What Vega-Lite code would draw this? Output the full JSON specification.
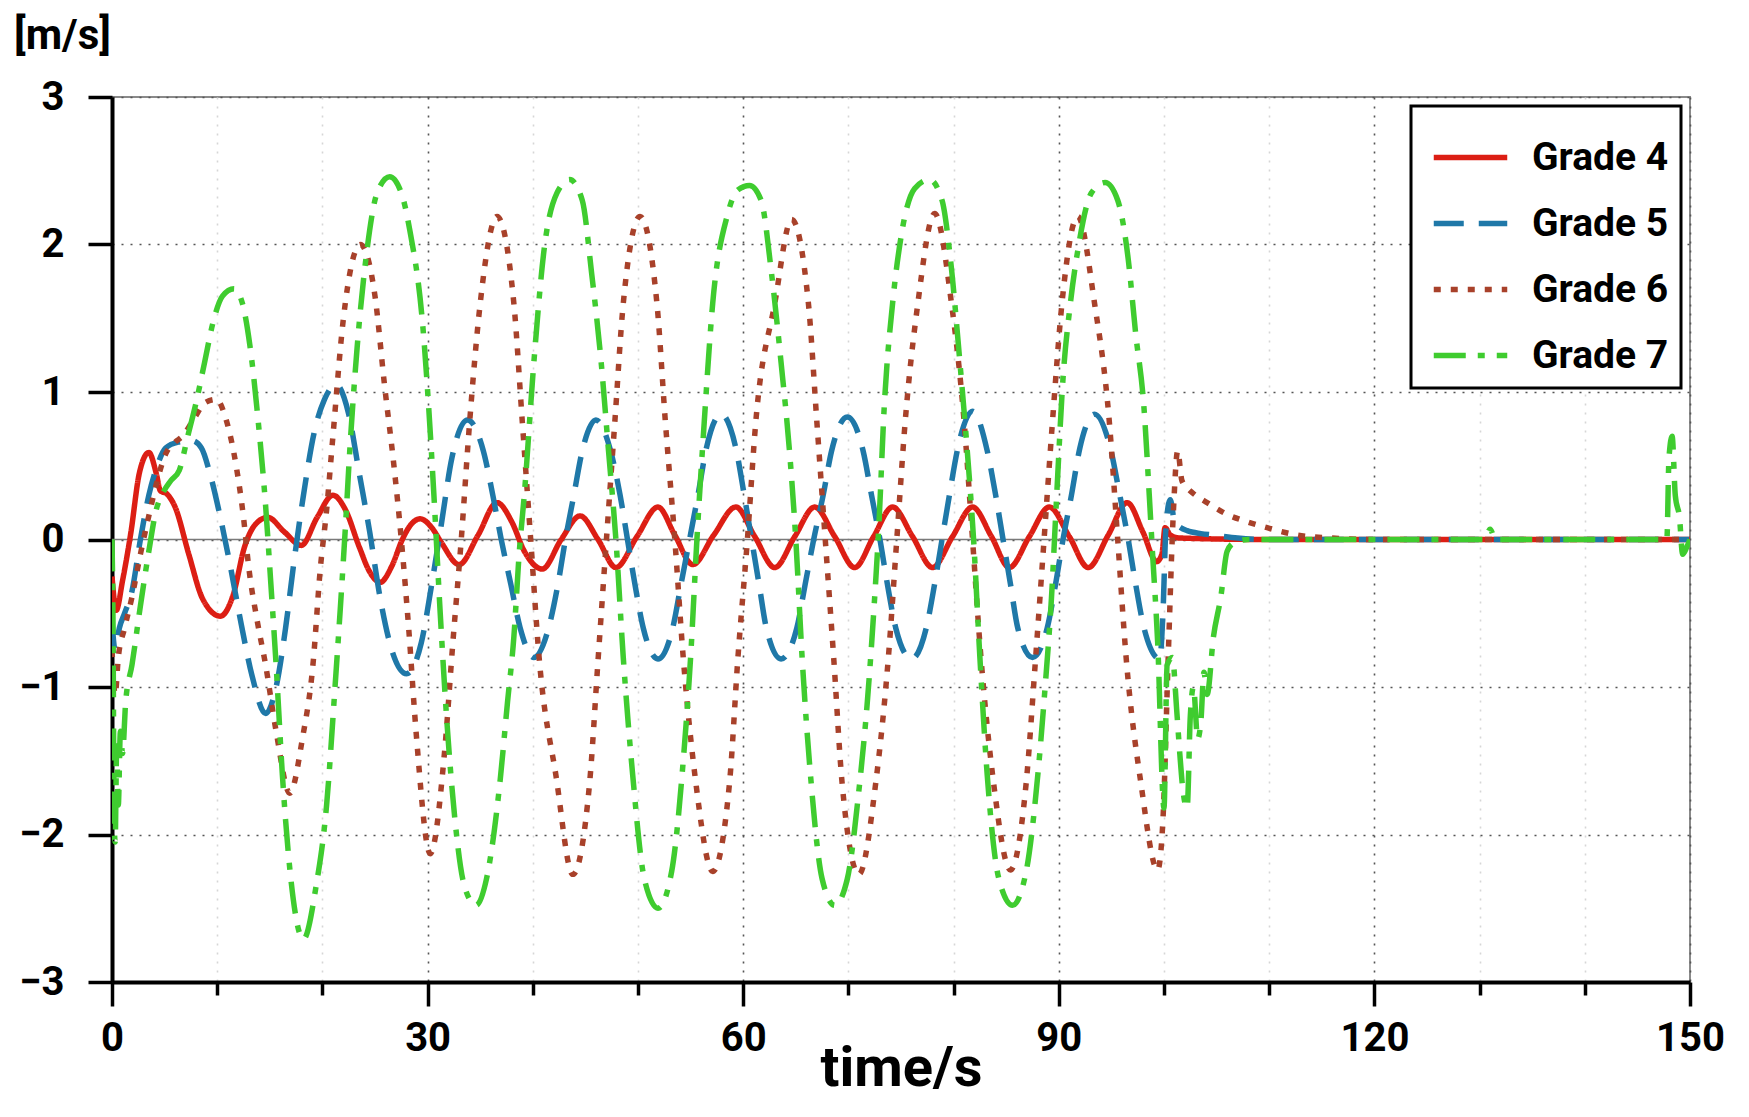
{
"$schema": "https://vega.github.io/schema/vega-lite/v6.json",
"width": 1578, "height": 885,
"autosize": {"type": "none"},
"padding": {"left": 112, "top": 97, "right": 59, "bottom": 135},
"background": "white",
"config": {
 "view": {"stroke": "#8a8a8a", "strokeWidth": 2},
 "font": "Roboto",
 "legend": {"strokeColor": "black", "strokeWidth": 3, "fillColor": "white"}
},
"data": {"values": [
{"grade":"Grade 4","t":0,"v":-0.25},{"grade":"Grade 4","t":0.4,"v":-0.48},{"grade":"Grade 4","t":1.0,"v":-0.28},{"grade":"Grade 4","t":1.8,"v":0.05},{"grade":"Grade 4","t":2.6,"v":0.45},{"grade":"Grade 4","t":3.5,"v":0.59},{"grade":"Grade 4","t":4.2,"v":0.45},{"grade":"Grade 4","t":4.6,"v":0.33},{"grade":"Grade 4","t":5.2,"v":0.31},{"grade":"Grade 4","t":6.0,"v":0.22},{"grade":"Grade 4","t":7.3,"v":-0.1},{"grade":"Grade 4","t":8.6,"v":-0.4},{"grade":"Grade 4","t":10.3,"v":-0.52},{"grade":"Grade 4","t":11.5,"v":-0.38},{"grade":"Grade 4","t":12.6,"v":-0.05},{"grade":"Grade 4","t":13.6,"v":0.1},{"grade":"Grade 4","t":14.8,"v":0.15},{"grade":"Grade 4","t":16.4,"v":0.05},{"grade":"Grade 4","t":18,"v":-0.04},{"grade":"Grade 4","t":19.5,"v":0.15},{"grade":"Grade 4","t":21,"v":0.3},{"grade":"Grade 4","t":22.2,"v":0.2},{"grade":"Grade 4","t":23.5,"v":-0.05},{"grade":"Grade 4","t":24.5,"v":-0.22},{"grade":"Grade 4","t":25.5,"v":-0.29},{"grade":"Grade 4","t":26.6,"v":-0.18},{"grade":"Grade 4","t":27.6,"v":0.0},{"grade":"Grade 4","t":28.4,"v":0.1},{"grade":"Grade 4","t":29.3,"v":0.14},{"grade":"Grade 4","t":30.4,"v":0.08},{"grade":"Grade 4","t":31.3,"v":-0.02},{"grade":"Grade 4","t":33,"v":-0.17},{"grade":"Grade 4","t":34.8,"v":0.03},{"grade":"Grade 4","t":36.6,"v":0.25},{"grade":"Grade 4","t":38.0,"v":0.12},{"grade":"Grade 4","t":39.2,"v":-0.08},{"grade":"Grade 4","t":40.9,"v":-0.2},{"grade":"Grade 4","t":42.7,"v":0.0},{"grade":"Grade 4","t":44.5,"v":0.16},{"grade":"Grade 4","t":46.2,"v":0.0},{"grade":"Grade 4","t":47.9,"v":-0.19},{"grade":"Grade 4","t":49.9,"v":0.02},{"grade":"Grade 4","t":51.9,"v":0.22},{"grade":"Grade 4","t":53.5,"v":0.03},{"grade":"Grade 4","t":55.2,"v":-0.17},{"grade":"Grade 4","t":57.2,"v":0.03},{"grade":"Grade 4","t":59.3,"v":0.22},{"grade":"Grade 4","t":61.1,"v":0.02},{"grade":"Grade 4","t":63,"v":-0.19},{"grade":"Grade 4","t":64.9,"v":0.02},{"grade":"Grade 4","t":66.8,"v":0.22},{"grade":"Grade 4","t":68.7,"v":0.02},{"grade":"Grade 4","t":70.6,"v":-0.19},{"grade":"Grade 4","t":72.4,"v":0.02},{"grade":"Grade 4","t":74.2,"v":0.22},{"grade":"Grade 4","t":76.1,"v":0.02},{"grade":"Grade 4","t":78,"v":-0.19},{"grade":"Grade 4","t":79.9,"v":0.02},{"grade":"Grade 4","t":81.8,"v":0.22},{"grade":"Grade 4","t":83.6,"v":0.02},{"grade":"Grade 4","t":85.3,"v":-0.19},{"grade":"Grade 4","t":87.2,"v":0.02},{"grade":"Grade 4","t":89.1,"v":0.22},{"grade":"Grade 4","t":91,"v":0.02},{"grade":"Grade 4","t":92.8,"v":-0.19},{"grade":"Grade 4","t":94.7,"v":0.03},{"grade":"Grade 4","t":96.5,"v":0.25},{"grade":"Grade 4","t":98,"v":0.05},{"grade":"Grade 4","t":99.3,"v":-0.15},{"grade":"Grade 4","t":99.8,"v":-0.1},{"grade":"Grade 4","t":100.1,"v":0.08},{"grade":"Grade 4","t":100.6,"v":0.03},{"grade":"Grade 4","t":101.5,"v":0.01},{"grade":"Grade 4","t":110,"v":0.0},{"grade":"Grade 4","t":150,"v":0.0},
{"grade":"Grade 5","t":0,"v":-0.55},{"grade":"Grade 5","t":0.3,"v":-0.75},{"grade":"Grade 5","t":0.7,"v":-0.6},{"grade":"Grade 5","t":1.2,"v":-0.5},{"grade":"Grade 5","t":1.9,"v":-0.35},{"grade":"Grade 5","t":2.7,"v":0.0},{"grade":"Grade 5","t":3.5,"v":0.3},{"grade":"Grade 5","t":4.3,"v":0.5},{"grade":"Grade 5","t":5.1,"v":0.62},{"grade":"Grade 5","t":6.3,"v":0.66},{"grade":"Grade 5","t":7.6,"v":0.67},{"grade":"Grade 5","t":8.5,"v":0.62},{"grade":"Grade 5","t":9.3,"v":0.45},{"grade":"Grade 5","t":10.3,"v":0.15},{"grade":"Grade 5","t":11.3,"v":-0.2},{"grade":"Grade 5","t":12.3,"v":-0.58},{"grade":"Grade 5","t":13.3,"v":-0.92},{"grade":"Grade 5","t":14.6,"v":-1.18},{"grade":"Grade 5","t":15.6,"v":-1.0},{"grade":"Grade 5","t":16.5,"v":-0.6},{"grade":"Grade 5","t":17.3,"v":-0.15},{"grade":"Grade 5","t":18.2,"v":0.3},{"grade":"Grade 5","t":19.2,"v":0.72},{"grade":"Grade 5","t":20.2,"v":0.95},{"grade":"Grade 5","t":21.3,"v":1.05},{"grade":"Grade 5","t":22.5,"v":0.85},{"grade":"Grade 5","t":23.5,"v":0.45},{"grade":"Grade 5","t":24.5,"v":0.05},{"grade":"Grade 5","t":25.5,"v":-0.4},{"grade":"Grade 5","t":26.6,"v":-0.75},{"grade":"Grade 5","t":28,"v":-0.91},{"grade":"Grade 5","t":29.4,"v":-0.7},{"grade":"Grade 5","t":30.4,"v":-0.3},{"grade":"Grade 5","t":31.3,"v":0.1},{"grade":"Grade 5","t":32.3,"v":0.55},{"grade":"Grade 5","t":33.8,"v":0.81},{"grade":"Grade 5","t":35.3,"v":0.6},{"grade":"Grade 5","t":36.2,"v":0.3},{"grade":"Grade 5","t":37.0,"v":0.0},{"grade":"Grade 5","t":37.9,"v":-0.3},{"grade":"Grade 5","t":38.8,"v":-0.6},{"grade":"Grade 5","t":40.1,"v":-0.8},{"grade":"Grade 5","t":41.5,"v":-0.6},{"grade":"Grade 5","t":42.4,"v":-0.3},{"grade":"Grade 5","t":43.1,"v":0.0},{"grade":"Grade 5","t":43.9,"v":0.3},{"grade":"Grade 5","t":44.7,"v":0.6},{"grade":"Grade 5","t":46,"v":0.81},{"grade":"Grade 5","t":47.4,"v":0.6},{"grade":"Grade 5","t":48.3,"v":0.3},{"grade":"Grade 5","t":49.0,"v":0.0},{"grade":"Grade 5","t":49.7,"v":-0.3},{"grade":"Grade 5","t":50.5,"v":-0.6},{"grade":"Grade 5","t":51.9,"v":-0.81},{"grade":"Grade 5","t":53.3,"v":-0.6},{"grade":"Grade 5","t":54.1,"v":-0.3},{"grade":"Grade 5","t":54.9,"v":0.0},{"grade":"Grade 5","t":55.7,"v":0.3},{"grade":"Grade 5","t":56.5,"v":0.62},{"grade":"Grade 5","t":57.9,"v":0.85},{"grade":"Grade 5","t":59.3,"v":0.62},{"grade":"Grade 5","t":60.1,"v":0.3},{"grade":"Grade 5","t":60.8,"v":0.0},{"grade":"Grade 5","t":61.5,"v":-0.3},{"grade":"Grade 5","t":62.2,"v":-0.6},{"grade":"Grade 5","t":63.6,"v":-0.81},{"grade":"Grade 5","t":65.1,"v":-0.6},{"grade":"Grade 5","t":65.9,"v":-0.3},{"grade":"Grade 5","t":66.7,"v":0.0},{"grade":"Grade 5","t":67.6,"v":0.3},{"grade":"Grade 5","t":68.4,"v":0.6},{"grade":"Grade 5","t":69.9,"v":0.83},{"grade":"Grade 5","t":71.4,"v":0.6},{"grade":"Grade 5","t":72.2,"v":0.3},{"grade":"Grade 5","t":73.0,"v":0.0},{"grade":"Grade 5","t":73.7,"v":-0.3},{"grade":"Grade 5","t":74.5,"v":-0.6},{"grade":"Grade 5","t":76,"v":-0.81},{"grade":"Grade 5","t":77.4,"v":-0.6},{"grade":"Grade 5","t":78.2,"v":-0.3},{"grade":"Grade 5","t":78.9,"v":0.0},{"grade":"Grade 5","t":79.6,"v":0.3},{"grade":"Grade 5","t":80.4,"v":0.62},{"grade":"Grade 5","t":81.8,"v":0.87},{"grade":"Grade 5","t":83.2,"v":0.6},{"grade":"Grade 5","t":84.0,"v":0.3},{"grade":"Grade 5","t":84.7,"v":0.0},{"grade":"Grade 5","t":85.4,"v":-0.3},{"grade":"Grade 5","t":86.1,"v":-0.6},{"grade":"Grade 5","t":87.5,"v":-0.8},{"grade":"Grade 5","t":88.9,"v":-0.6},{"grade":"Grade 5","t":89.7,"v":-0.3},{"grade":"Grade 5","t":90.4,"v":0.0},{"grade":"Grade 5","t":91.2,"v":0.3},{"grade":"Grade 5","t":92.0,"v":0.62},{"grade":"Grade 5","t":93.4,"v":0.85},{"grade":"Grade 5","t":94.9,"v":0.62},{"grade":"Grade 5","t":95.8,"v":0.3},{"grade":"Grade 5","t":96.6,"v":0.0},{"grade":"Grade 5","t":97.3,"v":-0.3},{"grade":"Grade 5","t":98.1,"v":-0.6},{"grade":"Grade 5","t":99.6,"v":-0.81},{"grade":"Grade 5","t":99.9,"v":-0.5},{"grade":"Grade 5","t":100.2,"v":0.1},{"grade":"Grade 5","t":100.6,"v":0.27},{"grade":"Grade 5","t":101.0,"v":0.12},{"grade":"Grade 5","t":101.6,"v":0.08},{"grade":"Grade 5","t":102.2,"v":0.06},{"grade":"Grade 5","t":103.5,"v":0.04},{"grade":"Grade 5","t":104.7,"v":0.03},{"grade":"Grade 5","t":107,"v":0.01},{"grade":"Grade 5","t":110,"v":0.0},{"grade":"Grade 5","t":150,"v":0.0},
{"grade":"Grade 6","t":0,"v":-0.75},{"grade":"Grade 6","t":0.3,"v":-1.05},{"grade":"Grade 6","t":0.6,"v":-0.8},{"grade":"Grade 6","t":1.2,"v":-0.6},{"grade":"Grade 6","t":1.9,"v":-0.39},{"grade":"Grade 6","t":2.7,"v":-0.1},{"grade":"Grade 6","t":3.5,"v":0.16},{"grade":"Grade 6","t":4.3,"v":0.4},{"grade":"Grade 6","t":5.1,"v":0.58},{"grade":"Grade 6","t":6.0,"v":0.66},{"grade":"Grade 6","t":6.7,"v":0.7},{"grade":"Grade 6","t":7.8,"v":0.82},{"grade":"Grade 6","t":8.9,"v":0.93},{"grade":"Grade 6","t":9.9,"v":0.95},{"grade":"Grade 6","t":10.9,"v":0.8},{"grade":"Grade 6","t":11.8,"v":0.5},{"grade":"Grade 6","t":12.5,"v":0.15},{"grade":"Grade 6","t":13.0,"v":-0.19},{"grade":"Grade 6","t":13.8,"v":-0.55},{"grade":"Grade 6","t":14.6,"v":-0.85},{"grade":"Grade 6","t":15.6,"v":-1.3},{"grade":"Grade 6","t":16.9,"v":-1.72},{"grade":"Grade 6","t":18.1,"v":-1.35},{"grade":"Grade 6","t":19.1,"v":-0.85},{"grade":"Grade 6","t":19.8,"v":-0.2},{"grade":"Grade 6","t":20.4,"v":0.2},{"grade":"Grade 6","t":21.0,"v":0.7},{"grade":"Grade 6","t":22.0,"v":1.5},{"grade":"Grade 6","t":23.6,"v":2.0},{"grade":"Grade 6","t":25.0,"v":1.65},{"grade":"Grade 6","t":25.9,"v":1.05},{"grade":"Grade 6","t":26.8,"v":0.5},{"grade":"Grade 6","t":27.5,"v":0.0},{"grade":"Grade 6","t":28.2,"v":-0.6},{"grade":"Grade 6","t":28.9,"v":-1.3},{"grade":"Grade 6","t":30.25,"v":-2.13},{"grade":"Grade 6","t":31.6,"v":-1.45},{"grade":"Grade 6","t":32.4,"v":-0.7},{"grade":"Grade 6","t":33.2,"v":0.0},{"grade":"Grade 6","t":34.0,"v":0.8},{"grade":"Grade 6","t":35.0,"v":1.6},{"grade":"Grade 6","t":36.6,"v":2.19},{"grade":"Grade 6","t":38.2,"v":1.6},{"grade":"Grade 6","t":39.0,"v":0.8},{"grade":"Grade 6","t":39.8,"v":0.0},{"grade":"Grade 6","t":40.6,"v":-0.8},{"grade":"Grade 6","t":42.2,"v":-1.6},{"grade":"Grade 6","t":43.8,"v":-2.27},{"grade":"Grade 6","t":45.4,"v":-1.65},{"grade":"Grade 6","t":46.2,"v":-0.82},{"grade":"Grade 6","t":47.0,"v":0.0},{"grade":"Grade 6","t":47.8,"v":0.8},{"grade":"Grade 6","t":48.6,"v":1.6},{"grade":"Grade 6","t":50.2,"v":2.19},{"grade":"Grade 6","t":51.8,"v":1.6},{"grade":"Grade 6","t":52.6,"v":0.8},{"grade":"Grade 6","t":53.5,"v":0.0},{"grade":"Grade 6","t":54.3,"v":-0.8},{"grade":"Grade 6","t":55.5,"v":-1.65},{"grade":"Grade 6","t":57.1,"v":-2.25},{"grade":"Grade 6","t":58.7,"v":-1.65},{"grade":"Grade 6","t":59.5,"v":-0.8},{"grade":"Grade 6","t":60.4,"v":0.0},{"grade":"Grade 6","t":61.2,"v":0.8},{"grade":"Grade 6","t":63.0,"v":1.6},{"grade":"Grade 6","t":64.6,"v":2.17},{"grade":"Grade 6","t":66.2,"v":1.6},{"grade":"Grade 6","t":67.0,"v":0.8},{"grade":"Grade 6","t":67.8,"v":0.0},{"grade":"Grade 6","t":68.6,"v":-0.8},{"grade":"Grade 6","t":69.4,"v":-1.65},{"grade":"Grade 6","t":71.0,"v":-2.27},{"grade":"Grade 6","t":72.6,"v":-1.65},{"grade":"Grade 6","t":73.8,"v":-0.8},{"grade":"Grade 6","t":74.6,"v":0.0},{"grade":"Grade 6","t":75.4,"v":0.8},{"grade":"Grade 6","t":76.6,"v":1.6},{"grade":"Grade 6","t":78.2,"v":2.21},{"grade":"Grade 6","t":79.8,"v":1.6},{"grade":"Grade 6","t":81.0,"v":0.8},{"grade":"Grade 6","t":81.8,"v":0.0},{"grade":"Grade 6","t":82.6,"v":-0.8},{"grade":"Grade 6","t":83.8,"v":-1.65},{"grade":"Grade 6","t":85.4,"v":-2.24},{"grade":"Grade 6","t":86.9,"v":-1.65},{"grade":"Grade 6","t":87.8,"v":-0.8},{"grade":"Grade 6","t":88.6,"v":0.0},{"grade":"Grade 6","t":89.4,"v":0.8},{"grade":"Grade 6","t":90.3,"v":1.6},{"grade":"Grade 6","t":91.8,"v":2.19},{"grade":"Grade 6","t":93.4,"v":1.6},{"grade":"Grade 6","t":94.8,"v":0.8},{"grade":"Grade 6","t":95.6,"v":0.0},{"grade":"Grade 6","t":96.4,"v":-0.8},{"grade":"Grade 6","t":97.8,"v":-1.65},{"grade":"Grade 6","t":99.4,"v":-2.24},{"grade":"Grade 6","t":99.9,"v":-1.9},{"grade":"Grade 6","t":100.4,"v":-0.8},{"grade":"Grade 6","t":100.9,"v":0.2},{"grade":"Grade 6","t":101.3,"v":0.6},{"grade":"Grade 6","t":101.7,"v":0.4},{"grade":"Grade 6","t":102.2,"v":0.35},{"grade":"Grade 6","t":103.0,"v":0.3},{"grade":"Grade 6","t":104.1,"v":0.25},{"grade":"Grade 6","t":106.0,"v":0.17},{"grade":"Grade 6","t":107.9,"v":0.12},{"grade":"Grade 6","t":109.8,"v":0.08},{"grade":"Grade 6","t":112.7,"v":0.03},{"grade":"Grade 6","t":116,"v":0.01},{"grade":"Grade 6","t":120,"v":0.0},{"grade":"Grade 6","t":150,"v":0.0},
{"grade":"Grade 7","t":0,"v":0.0},{"grade":"Grade 7","t":0.1,"v":-0.6},{"grade":"Grade 7","t":0.2,"v":-1.9},{"grade":"Grade 7","t":0.3,"v":-2.05},{"grade":"Grade 7","t":0.45,"v":-1.4},{"grade":"Grade 7","t":0.6,"v":-1.8},{"grade":"Grade 7","t":0.8,"v":-1.3},{"grade":"Grade 7","t":1.0,"v":-1.45},{"grade":"Grade 7","t":1.3,"v":-1.1},{"grade":"Grade 7","t":1.9,"v":-0.85},{"grade":"Grade 7","t":2.7,"v":-0.45},{"grade":"Grade 7","t":3.5,"v":-0.08},{"grade":"Grade 7","t":4.2,"v":0.2},{"grade":"Grade 7","t":4.8,"v":0.31},{"grade":"Grade 7","t":5.6,"v":0.4},{"grade":"Grade 7","t":6.4,"v":0.47},{"grade":"Grade 7","t":7.2,"v":0.7},{"grade":"Grade 7","t":8.0,"v":0.93},{"grade":"Grade 7","t":8.8,"v":1.2},{"grade":"Grade 7","t":9.6,"v":1.47},{"grade":"Grade 7","t":10.5,"v":1.65},{"grade":"Grade 7","t":11.6,"v":1.7},{"grade":"Grade 7","t":12.4,"v":1.6},{"grade":"Grade 7","t":13.1,"v":1.32},{"grade":"Grade 7","t":13.9,"v":0.8},{"grade":"Grade 7","t":14.6,"v":0.23},{"grade":"Grade 7","t":15.1,"v":-0.3},{"grade":"Grade 7","t":15.6,"v":-0.85},{"grade":"Grade 7","t":16.2,"v":-1.6},{"grade":"Grade 7","t":17.0,"v":-2.3},{"grade":"Grade 7","t":18.2,"v":-2.71},{"grade":"Grade 7","t":19.4,"v":-2.35},{"grade":"Grade 7","t":20.4,"v":-1.8},{"grade":"Grade 7","t":21.2,"v":-1.0},{"grade":"Grade 7","t":21.7,"v":-0.47},{"grade":"Grade 7","t":22.2,"v":0.1},{"grade":"Grade 7","t":22.6,"v":0.6},{"grade":"Grade 7","t":23.3,"v":1.3},{"grade":"Grade 7","t":24.2,"v":1.94},{"grade":"Grade 7","t":25.2,"v":2.35},{"grade":"Grade 7","t":26.4,"v":2.46},{"grade":"Grade 7","t":27.5,"v":2.35},{"grade":"Grade 7","t":28.3,"v":2.1},{"grade":"Grade 7","t":29.6,"v":1.4},{"grade":"Grade 7","t":30.1,"v":0.9},{"grade":"Grade 7","t":30.6,"v":0.3},{"grade":"Grade 7","t":31.2,"v":-0.5},{"grade":"Grade 7","t":31.8,"v":-1.2},{"grade":"Grade 7","t":32.6,"v":-1.9},{"grade":"Grade 7","t":33.5,"v":-2.35},{"grade":"Grade 7","t":34.6,"v":-2.48},{"grade":"Grade 7","t":35.6,"v":-2.3},{"grade":"Grade 7","t":36.9,"v":-1.63},{"grade":"Grade 7","t":37.6,"v":-1.1},{"grade":"Grade 7","t":38.2,"v":-0.66},{"grade":"Grade 7","t":38.7,"v":-0.1},{"grade":"Grade 7","t":39.2,"v":0.31},{"grade":"Grade 7","t":40.1,"v":1.2},{"grade":"Grade 7","t":41.1,"v":1.98},{"grade":"Grade 7","t":42.3,"v":2.35},{"grade":"Grade 7","t":43.5,"v":2.44},{"grade":"Grade 7","t":44.7,"v":2.3},{"grade":"Grade 7","t":45.6,"v":1.8},{"grade":"Grade 7","t":46.5,"v":1.2},{"grade":"Grade 7","t":47.2,"v":0.6},{"grade":"Grade 7","t":47.9,"v":0.0},{"grade":"Grade 7","t":48.6,"v":-0.8},{"grade":"Grade 7","t":49.5,"v":-1.6},{"grade":"Grade 7","t":50.6,"v":-2.3},{"grade":"Grade 7","t":51.9,"v":-2.5},{"grade":"Grade 7","t":53.2,"v":-2.25},{"grade":"Grade 7","t":54.3,"v":-1.5},{"grade":"Grade 7","t":55.0,"v":-0.8},{"grade":"Grade 7","t":55.6,"v":0.0},{"grade":"Grade 7","t":56.3,"v":0.8},{"grade":"Grade 7","t":57.1,"v":1.6},{"grade":"Grade 7","t":58.5,"v":2.2},{"grade":"Grade 7","t":59.5,"v":2.37},{"grade":"Grade 7","t":60.6,"v":2.4},{"grade":"Grade 7","t":61.7,"v":2.3},{"grade":"Grade 7","t":62.7,"v":1.8},{"grade":"Grade 7","t":63.6,"v":1.2},{"grade":"Grade 7","t":64.4,"v":0.6},{"grade":"Grade 7","t":65.0,"v":0.0},{"grade":"Grade 7","t":65.6,"v":-0.8},{"grade":"Grade 7","t":66.4,"v":-1.6},{"grade":"Grade 7","t":67.5,"v":-2.3},{"grade":"Grade 7","t":68.7,"v":-2.48},{"grade":"Grade 7","t":69.9,"v":-2.3},{"grade":"Grade 7","t":71.0,"v":-1.7},{"grade":"Grade 7","t":71.8,"v":-1.1},{"grade":"Grade 7","t":72.4,"v":-0.5},{"grade":"Grade 7","t":72.9,"v":0.1},{"grade":"Grade 7","t":73.4,"v":0.89},{"grade":"Grade 7","t":74.2,"v":1.6},{"grade":"Grade 7","t":75.0,"v":2.05},{"grade":"Grade 7","t":76.3,"v":2.38},{"grade":"Grade 7","t":77.7,"v":2.44},{"grade":"Grade 7","t":78.9,"v":2.3},{"grade":"Grade 7","t":79.7,"v":1.9},{"grade":"Grade 7","t":80.6,"v":1.2},{"grade":"Grade 7","t":81.3,"v":0.6},{"grade":"Grade 7","t":81.9,"v":0.0},{"grade":"Grade 7","t":82.5,"v":-0.8},{"grade":"Grade 7","t":83.2,"v":-1.6},{"grade":"Grade 7","t":84.3,"v":-2.3},{"grade":"Grade 7","t":85.6,"v":-2.48},{"grade":"Grade 7","t":86.9,"v":-2.25},{"grade":"Grade 7","t":88.0,"v":-1.6},{"grade":"Grade 7","t":88.7,"v":-1.0},{"grade":"Grade 7","t":89.3,"v":-0.4},{"grade":"Grade 7","t":89.8,"v":0.3},{"grade":"Grade 7","t":90.4,"v":1.09},{"grade":"Grade 7","t":91.1,"v":1.6},{"grade":"Grade 7","t":91.9,"v":2.0},{"grade":"Grade 7","t":93.1,"v":2.35},{"grade":"Grade 7","t":94.4,"v":2.42},{"grade":"Grade 7","t":95.6,"v":2.3},{"grade":"Grade 7","t":96.6,"v":1.9},{"grade":"Grade 7","t":97.3,"v":1.4},{"grade":"Grade 7","t":98.1,"v":0.89},{"grade":"Grade 7","t":98.6,"v":0.3},{"grade":"Grade 7","t":98.9,"v":-0.08},{"grade":"Grade 7","t":99.4,"v":-0.7},{"grade":"Grade 7","t":100.0,"v":-1.82},{"grade":"Grade 7","t":100.3,"v":-0.85},{"grade":"Grade 7","t":100.8,"v":-0.8},{"grade":"Grade 7","t":101.2,"v":-1.15},{"grade":"Grade 7","t":101.5,"v":-1.45},{"grade":"Grade 7","t":101.8,"v":-1.7},{"grade":"Grade 7","t":102.2,"v":-1.82},{"grade":"Grade 7","t":102.5,"v":-1.2},{"grade":"Grade 7","t":102.8,"v":-1.0},{"grade":"Grade 7","t":103.2,"v":-1.35},{"grade":"Grade 7","t":103.5,"v":-1.24},{"grade":"Grade 7","t":103.8,"v":-0.9},{"grade":"Grade 7","t":104.1,"v":-1.05},{"grade":"Grade 7","t":104.7,"v":-0.66},{"grade":"Grade 7","t":105.4,"v":-0.39},{"grade":"Grade 7","t":106.0,"v":-0.08},{"grade":"Grade 7","t":106.7,"v":-0.02},{"grade":"Grade 7","t":108,"v":0.0},{"grade":"Grade 7","t":130.5,"v":0.0},{"grade":"Grade 7","t":131.0,"v":0.07},{"grade":"Grade 7","t":131.5,"v":0.0},{"grade":"Grade 7","t":147.8,"v":0.0},{"grade":"Grade 7","t":148.0,"v":0.55},{"grade":"Grade 7","t":148.3,"v":0.7},{"grade":"Grade 7","t":148.6,"v":0.3},{"grade":"Grade 7","t":149.0,"v":0.15},{"grade":"Grade 7","t":149.3,"v":-0.1},{"grade":"Grade 7","t":149.7,"v":-0.05},{"grade":"Grade 7","t":150.0,"v":0.0}
]},
"layer": [
 {
  "data": {"values": [{}]},
  "mark": {"type": "rule", "color": "#7a7a7a", "strokeWidth": 1.3},
  "encoding": {"y": {"datum": 0, "type": "quantitative"}}
 },
 {
  "mark": {"type": "line", "interpolate": "monotone", "strokeWidth": 5.5, "strokeCap": "butt", "clip": true},
  "encoding": {
   "x": {"field": "t", "type": "quantitative",
    "scale": {"domain": [0, 150], "nice": false, "zero": false},
    "axis": {"values": [0,10,20,30,40,50,60,70,80,90,100,110,120,130,140,150],
     "labelExpr": "datum.value % 30 === 0 ? datum.label : ''",
     "title": "time/s", "titleFont": "Roboto", "titleFontSize": 56, "titleFontWeight": "bold", "titleColor": "black",
     "titleY": 86, "titleBaseline": "middle",
     "labelFont": "Roboto", "labelFontSize": 40, "labelFontWeight": "bold", "labelColor": "black", "labelPadding": 12,
     "labelFlush": false, "labelOverlap": false,
     "domainColor": "black", "domainWidth": 4,
     "tickColor": "black", "tickWidth": 3.5,
     "tickSize": {"condition": {"test": "datum.value % 30 === 0", "value": 24}, "value": 13},
     "grid": true,
     "gridColor": {"condition": {"test": "datum.value % 30 === 0", "value": "#555555"}, "value": "#d6d6d6"},
     "gridDash": [2, 7], "gridWidth": 1.6}},
   "y": {"field": "v", "type": "quantitative",
    "scale": {"domain": [-3, 3], "nice": false},
    "axis": {"values": [-3,-2.5,-2,-1.5,-1,-0.5,0,0.5,1,1.5,2,2.5,3],
     "labelExpr": "datum.value % 1 === 0 ? datum.label : ''",
     "format": "d",
     "title": "[m/s]", "titleAngle": 0, "titleX": -50, "titleY": -62, "titleAlign": "center", "titleBaseline": "middle",
     "titleFont": "Roboto", "titleFontSize": 42, "titleFontWeight": "bold", "titleColor": "black",
     "labelFont": "Roboto", "labelFontSize": 40, "labelFontWeight": "bold", "labelColor": "black", "labelPadding": 24,
     "labelBaseline": "middle", "labelFlush": false, "labelOverlap": false,
     "domainColor": "black", "domainWidth": 4,
     "tickColor": "black", "tickWidth": 3.5,
     "tickSize": {"condition": {"test": "datum.value % 1 === 0", "value": 24}, "value": 13},
     "grid": true,
     "gridColor": {"condition": {"test": "datum.value % 1 === 0", "value": "#555555"}, "value": "#d6d6d6"},
     "gridDash": [2, 7], "gridWidth": 1.6}},
   "color": {"field": "grade", "type": "nominal",
    "scale": {"domain": ["Grade 4", "Grade 5", "Grade 6", "Grade 7"], "range": ["#dc1e14", "#1f78a8", "#a8412a", "#3fcc2f"]},
    "legend": {"title": null, "orient": "top-right", "offset": 9, "symbolType": "stroke", "symbolSize": 5400, "symbolStrokeWidth": 5.5,
     "labelFont": "Roboto", "labelFontSize": 39, "labelFontWeight": "bold", "labelColor": "black", "labelOffset": 22, "labelLimit": 400,
     "rowPadding": 6, "padding": 12, "symbolOffset": 8}},
   "strokeDash": {"field": "grade", "type": "nominal",
    "scale": {"domain": ["Grade 4", "Grade 5", "Grade 6", "Grade 7"], "range": [[1, 0], [30, 15], [7, 10], [32, 12, 7, 12]]},
    "legend": {"title": null, "orient": "top-right", "offset": 9, "symbolType": "stroke", "symbolSize": 5400, "symbolStrokeWidth": 5.5,
     "labelFont": "Roboto", "labelFontSize": 39, "labelFontWeight": "bold", "labelColor": "black", "labelOffset": 22, "labelLimit": 400,
     "rowPadding": 6, "padding": 12, "symbolOffset": 8}}
  }
 }
]
}
